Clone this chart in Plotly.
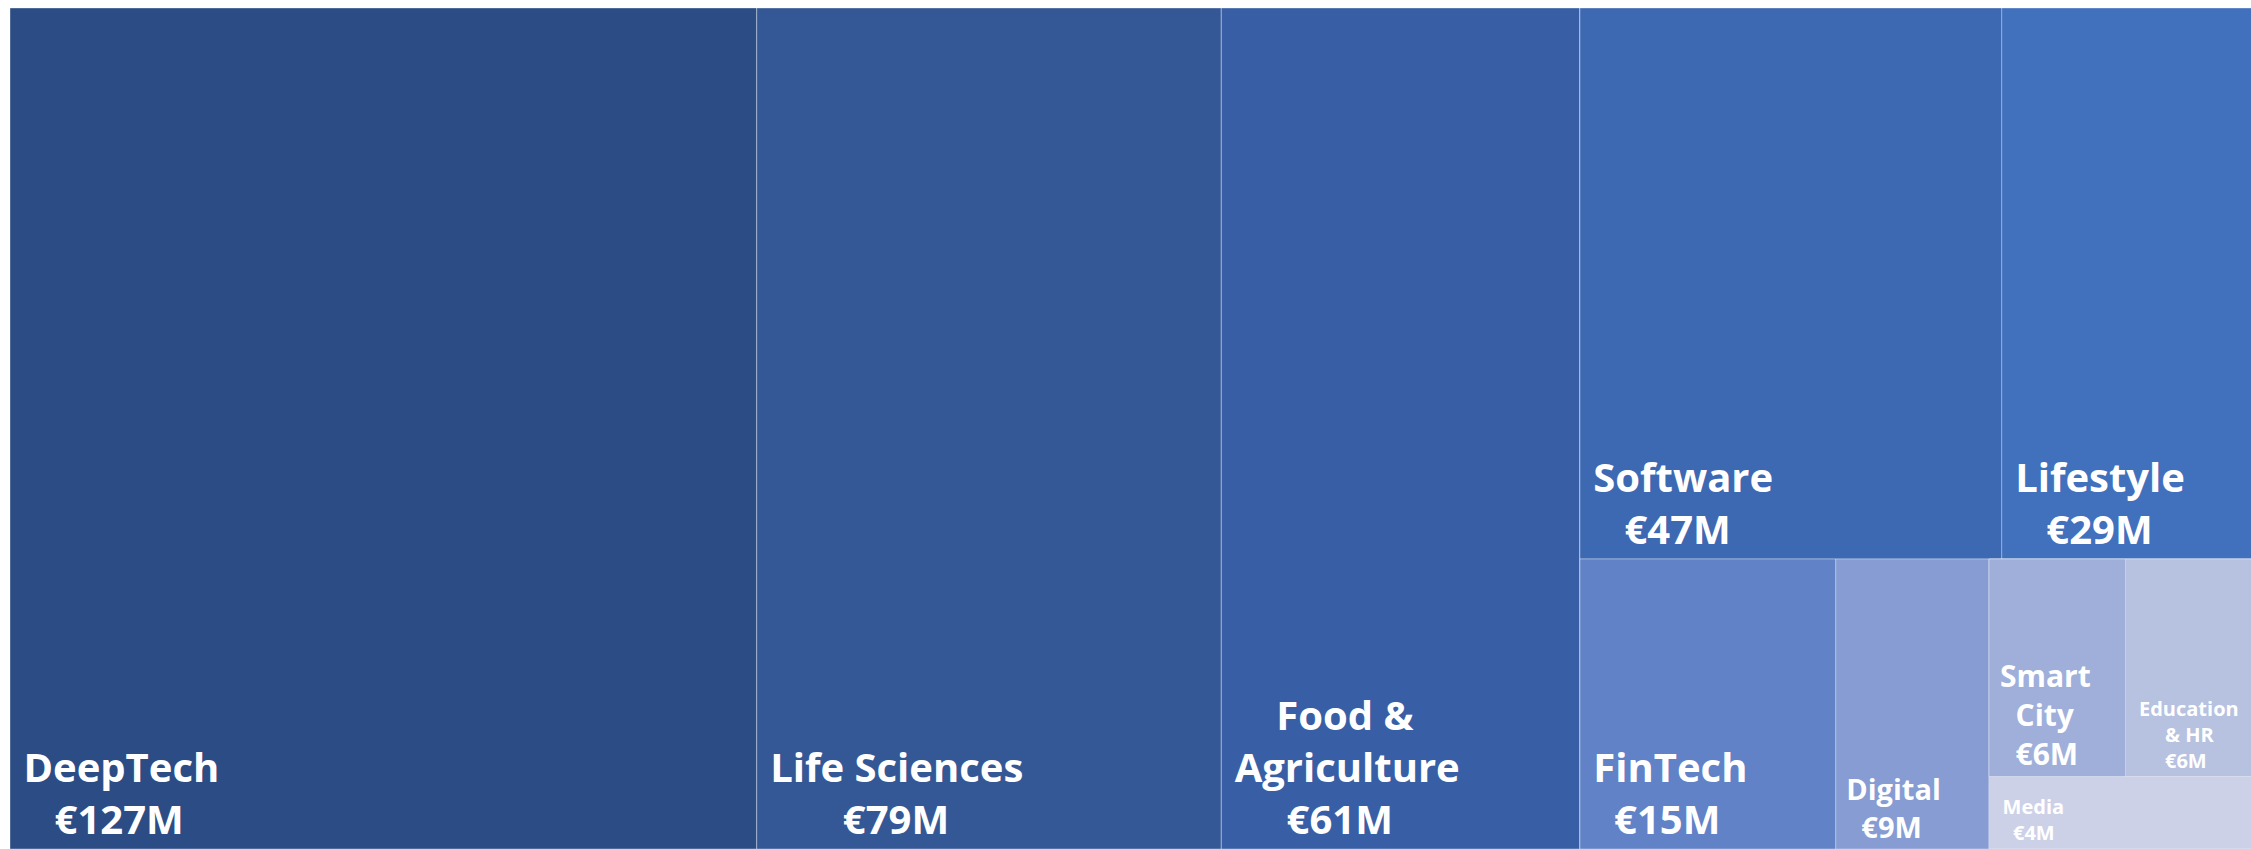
import plotly.graph_objects as go

# Funding raised per sector, in € millions
sectors = ["DeepTech", "Life Sciences", "Food & Agriculture", "Software", "Lifestyle",
           "FinTech", "Digital", "Smart City", "Education & HR", "Media"]
funding_m = [127, 79, 61, 47, 29, 15, 9, 6, 6, 4]

# How each sector name wraps inside its tile
name_lines = {
    "Food & Agriculture": ["Food &", "Agriculture"],
    "Smart City": ["Smart", "City"],
    "Education & HR": ["Education", "& HR"],
}

sector_colors = ["#2C4C85", "#345896", "#385FA5", "#3D68B2", "#4170BD",
                 "#6182C6", "#869CD3", "#A0AFDA", "#B7C1E0", "#CCD1E8"]
label_sizes = [40, 40, 40, 40, 40, 40, 29, 30, 20, 20]

# Tile nesting: columns first, then rows, alternating with depth (slice-dice)
layout_tree = ["DeepTech", "Life Sciences", "Food & Agriculture",
               [["Software", "Lifestyle"],
                ["FinTech", "Digital", [["Smart City", "Education & HR"], "Media"]]]]

# Approximate Open Sans Bold advance widths (em), used to centre wrapped lines
ADV = {" ": .26, "\u00a0": .26, "&": .745, "€": .572,
       "A": .690, "C": .632, "D": .723, "E": .558, "F": .543, "H": .754, "L": .532,
       "M": .912, "R": .661, "S": .559, "T": .569,
       "a": .585, "c": .486, "d": .611, "e": .576, "f": .398, "g": .543, "h": .633,
       "i": .297, "l": .297, "m": .948, "n": .633, "o": .604, "p": .611, "r": .432,
       "s": .500, "t": .421, "u": .633, "w": .823, "y": .550}
DIGIT_EM = .572
NBSP_EM = .26


def line_em(s):
    return sum(DIGIT_EM if ch.isdigit() else ADV.get(ch, .6) for ch in s)


def tile_text(name, value, size):
    lines = name_lines.get(name, [name]) + [f"€{value}M"]
    widest = max(line_em(l) for l in lines)
    lead = max(1, round(10 / (NBSP_EM * size)))
    out = []
    for l in lines:
        n = lead + round((widest - line_em(l)) / 2 / NBSP_EM)
        out.append("\u00a0" * n + l)
    return "<br>".join(out)


ids, parents, values, texts, colors, sizes = [], [], [], [], [], []
group_count = [0]


def add_nodes(items, parent_id):
    for item in items:
        if isinstance(item, list):
            group_count[0] += 1
            gid = f"group{group_count[0]}"
            ids.append(gid)
            parents.append(parent_id)
            values.append(0)
            texts.append("")
            colors.append("#3D68B2")
            sizes.append(12)
            add_nodes(item, gid)
        else:
            i = sectors.index(item)
            ids.append(item)
            parents.append(parent_id)
            values.append(funding_m[i])
            texts.append(tile_text(item, funding_m[i], label_sizes[i]))
            colors.append(sector_colors[i])
            sizes.append(label_sizes[i])


add_nodes(layout_tree, "")

fig = go.Figure(go.Treemap(
    ids=ids,
    labels=ids,
    parents=parents,
    values=values,
    text=texts,
    textinfo="text",
    branchvalues="remainder",
    sort=False,
    tiling=dict(packing="slice-dice", pad=0),
    marker=dict(colors=colors, depthfade=False,
                line=dict(color="rgba(255,255,255,0.35)", width=1),
                pad=dict(t=0, l=0, r=0, b=0)),
    pathbar=dict(visible=False),
    textposition="bottom left",
    textfont=dict(family="Open Sans", color="white", size=sizes, weight="bold"),
    hoverinfo="skip",
))

# The treemap runs slightly past the right edge of the view
fig.update_layout(
    width=2262, height=849,
    margin=dict(l=10, r=0, t=8, b=0),
    paper_bgcolor="white",
    showlegend=False,
)

fig.write_html("out.html")
